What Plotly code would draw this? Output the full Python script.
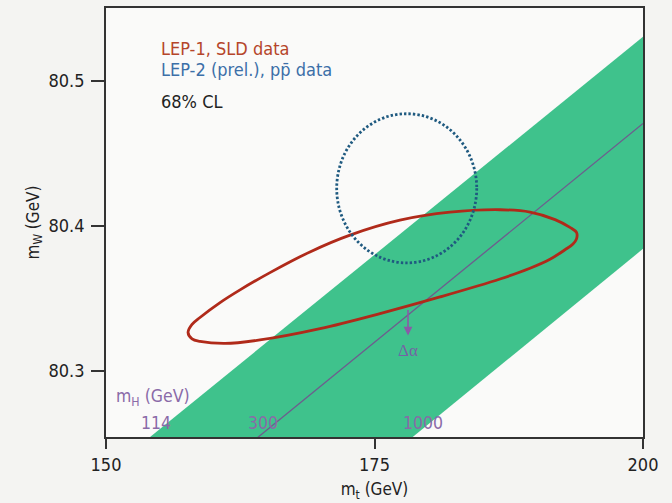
import plotly.graph_objects as go

# ---------------- data ----------------
# Higgs-mass lines m_W(m_t) at the two ends of the m_t axis
mh_line_mt = [150, 200]
mw_mh114 = [80.2296, 80.5306]
mw_mh300 = [80.1686, 80.4708]
mw_mh1000 = [80.0813, 80.3842]
mh_labels = ["114", "300", "1000"]
mh_label_mt = [154.66, 164.62, 179.52]

# LEP-1 / SLD 68% CL contour (closed curve)
lep1_mt = [186.69, 189.48, 191.81, 193.20, 193.81, 193.81, 193.48, 192.74, 191.34,
           189.48, 186.69, 181.10, 175.51, 169.93, 164.34, 161.08, 158.75,
           158.01, 157.64, 158.01, 158.75, 160.62, 162.48, 165.27, 168.99,
           172.72, 177.37, 182.03, 186.69]
lep1_mw = [80.4112, 80.4096, 80.4044, 80.3990, 80.3955, 80.3911, 80.3876, 80.3836, 80.3770,
           80.3708, 80.3634, 80.3510, 80.3395, 80.3291, 80.3213, 80.3189, 80.3203,
           80.3220, 80.3265, 80.3320, 80.3368, 80.3471, 80.3559, 80.3678, 80.3821,
           80.3937, 80.4040, 80.4095, 80.4112]

# LEP-2 (prel.), p pbar direct measurements: centre and 68% CL half-widths
lep2_mt, lep2_mw = 178.0, 80.426
lep2_dmt, lep2_dmw = 6.52, 0.0515

x_ticks = [150, 175, 200]
y_ticks = [80.3, 80.4, 80.5]

FONT = "DejaVu Sans Condensed, Liberation Sans, sans-serif"
GREEN = "#3fc28c"
RED = "#b02a1a"
PURPLE = "#6e5c8e"
LABEL_PURPLE = "#8a6aa8"

fig = go.Figure()

# green band between m_H = 114 and m_H = 1000
fig.add_trace(go.Scatter(
    x=mh_line_mt + mh_line_mt[::-1],
    y=mw_mh114 + mw_mh1000[::-1],
    fill="toself", fillcolor=GREEN, mode="lines",
    line=dict(width=0, color=GREEN), hoverinfo="skip", showlegend=False))

# m_H = 300 line
fig.add_trace(go.Scatter(
    x=mh_line_mt, y=mw_mh300, mode="lines",
    line=dict(color=PURPLE, width=1.3), hoverinfo="skip", showlegend=False))

# LEP-1 / SLD contour
fig.add_trace(go.Scatter(
    x=lep1_mt, y=lep1_mw, mode="lines",
    line=dict(color=RED, width=2.8, shape="spline", smoothing=1.0),
    hoverinfo="skip", showlegend=False))

# LEP-2 / p pbar contour (dotted circle)
fig.add_shape(type="circle", xref="x", yref="y",
              x0=lep2_mt - lep2_dmt, x1=lep2_mt + lep2_dmt,
              y0=lep2_mw - lep2_dmw, y1=lep2_mw + lep2_dmw,
              line=dict(color="#1f5a80", width=2.8, dash="2.4px,2.1px"))

ann = []
# legend texts
leg_x = 154.93
ann.append(dict(x=leg_x, y=80.5223, text="LEP-1, SLD data", font=dict(color="#b5452a", size=18, family=FONT)))
ann.append(dict(x=leg_x, y=80.5079, text="LEP-2 (prel.), pp\u0304 data", font=dict(color="#3c6fa8", size=18, family=FONT)))
ann.append(dict(x=leg_x, y=80.4859, text="68% CL", font=dict(color="#222222", size=18, family=FONT)))
for a in ann:
    a.update(xref="x", yref="y", xanchor="left", yanchor="middle", showarrow=False)

# m_H labels
ann.append(dict(x=154.38, y=80.2818, xref="x", yref="y", text="m<sub>H</sub> (GeV)", showarrow=False,
                font=dict(color=LABEL_PURPLE, size=17.5, family=FONT)))
for lab, xm in zip(mh_labels, mh_label_mt):
    ann.append(dict(x=xm, y=80.2639, xref="x", yref="y", text=lab, showarrow=False,
                    font=dict(color=LABEL_PURPLE, size=17.5, family=FONT)))

# delta-alpha arrow and label
ann.append(dict(x=178.12, y=80.3244, ax=178.12, ay=80.3430, xref="x", yref="y",
                axref="x", ayref="y", text="", showarrow=True, arrowhead=2,
                arrowsize=1.1, arrowwidth=1.6, arrowcolor="#8a5aa8"))
ann.append(dict(x=178.12, y=80.3141, xref="x", yref="y", text="\u0394\u03b1", showarrow=False,
                font=dict(color="#7464a4", size=17, family="Liberation Serif, DejaVu Serif, serif")))

fig.update_layout(
    width=672, height=503,
    margin=dict(l=106, r=29, t=6, b=66),
    paper_bgcolor="#f4f4f2", plot_bgcolor="#fafaf9",
    annotations=ann,
    xaxis=dict(range=[150, 200], tickvals=x_ticks, ticktext=[str(v) for v in x_ticks],
               ticks="outside", ticklen=10, tickwidth=1.5, tickcolor="#333",
               showline=True, linecolor="#333", linewidth=1.8, mirror=True,
               showgrid=False, zeroline=False,
               tickfont=dict(size=18, family=FONT, color="#222"),
               title=dict(text="m<sub>t</sub> (GeV)", font=dict(size=17, family=FONT, color="#222"),
                          standoff=10)),
    yaxis=dict(range=[80.2543, 80.5505], tickvals=y_ticks, ticktext=[f"{v:.1f}" for v in y_ticks],
               ticks="outside", ticklen=13, tickwidth=1.5, tickcolor="#333",
               ticklabelstandoff=3,
               showline=True, linecolor="#333", linewidth=1.8, mirror=True,
               showgrid=False, zeroline=False,
               tickfont=dict(size=18, family=FONT, color="#222"),
               title=dict(text="m<sub>W</sub> (GeV)", font=dict(size=17, family=FONT, color="#222"),
                          standoff=5)),
)

fig.write_html("out.html", config={"displayModeBar": False},
               post_script="document.body.style.margin='0';")
